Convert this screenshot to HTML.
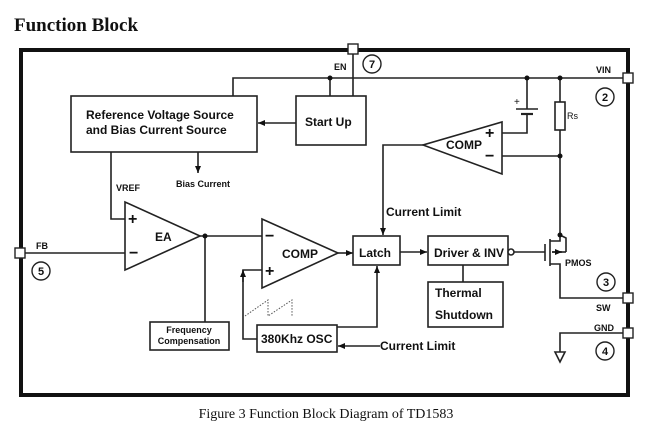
<!DOCTYPE html>
<html><head><meta charset="utf-8"><style>
html,body{margin:0;padding:0;background:#fff;}
svg{display:block;}
text{font-family:"Liberation Sans",Arial,sans-serif;font-weight:bold;fill:#111;}
.s{font-family:"Liberation Serif",serif;}
</style></head><body>
<svg width="651" height="440" viewBox="0 0 651 440" xmlns="http://www.w3.org/2000/svg">
<defs><marker id="a" markerWidth="8" markerHeight="8" refX="7" refY="4" orient="auto" markerUnits="userSpaceOnUse"><path d="M0,1 L7,4 L0,7 Z" fill="#111"/></marker></defs>
<text x="14" y="31" class="s" font-size="19">Function Block</text>
<rect x="21" y="50" width="607" height="345" fill="none" stroke="#111" stroke-width="4"/>
<g stroke="#222" stroke-width="1.6" fill="none">
<polyline points="233,96 233,78 628,78"/>
<line x1="353" y1="50" x2="353" y2="96"/>
<line x1="330" y1="78" x2="330" y2="96"/>
<rect x="71" y="96" width="186" height="56" fill="#fff"/>
<rect x="296" y="96" width="70" height="49" fill="#fff"/>
<line x1="296" y1="123" x2="258" y2="123" marker-end="url(#a)"/>
<line x1="198" y1="152" x2="198" y2="173" marker-end="url(#a)"/>
<polyline points="111,152 111,219 125,219"/>
<polygon points="125,202 125,270 200,236" fill="#fff"/>
<line x1="22" y1="253" x2="125" y2="253"/>
<line x1="200" y1="236" x2="262" y2="236"/>
<line x1="205" y1="236" x2="205" y2="322"/>
<rect x="150" y="322" width="79" height="28" fill="#fff"/>
<polygon points="262,219 262,288 338,253" fill="#fff"/>
<polyline points="257,339 243,339 243,270 262,270"/>
<line x1="243" y1="282" x2="243" y2="270" marker-end="url(#a)"/>
<rect x="257" y="325" width="80" height="27" fill="#fff"/>
<line x1="338" y1="253" x2="353" y2="253" marker-end="url(#a)"/>
<rect x="353" y="236" width="47" height="29" fill="#fff"/>
<polyline points="337,327 377,327 377,266" marker-end="url(#a)"/>
<line x1="380" y1="346" x2="338" y2="346" marker-end="url(#a)"/>
<line x1="400" y1="252" x2="427" y2="252" marker-end="url(#a)"/>
<rect x="428" y="236" width="80" height="29" fill="#fff"/>
<circle cx="511" cy="252" r="3" fill="#fff"/>
<line x1="514" y1="252" x2="545" y2="252"/>
<line x1="545" y1="244" x2="545" y2="261"/>
<line x1="550" y1="239" x2="550" y2="266"/>
<polyline points="550,241 560,241 560,235"/>
<polyline points="560,235 566,238 566,252"/>
<line x1="566" y1="252" x2="552" y2="252" />
<line x1="552" y1="252" x2="562" y2="252" marker-end="url(#a)"/>
<polyline points="550,264 560,264 560,298 628,298"/>
<line x1="463" y1="265" x2="463" y2="282"/>
<rect x="428" y="282" width="75" height="45" fill="#fff"/>
<polyline points="628,333 560,333 560,352"/>
<polygon points="555,352 565,352 560,362" fill="#fff"/>
<line x1="560" y1="78" x2="560" y2="102"/>
<rect x="555" y="102" width="10" height="28" fill="#fff"/>
<line x1="560" y1="130" x2="560" y2="235"/>
<line x1="502" y1="156" x2="560" y2="156"/>
<polygon points="502,122 502,174 423,145" fill="#fff"/>
<polyline points="502,133 527,133 527,114"/>
<line x1="527" y1="78" x2="527" y2="109"/>
<line x1="516" y1="109" x2="538" y2="109"/>
<line x1="521" y1="114" x2="533" y2="114" stroke-width="2.2"/>
<polyline points="423,145 383,145 383,235" marker-end="url(#a)"/>
</g>
<g stroke="#555" stroke-width="1" stroke-dasharray="1.5,1.5" fill="none">
<polyline points="245,316 268,300 268,316 292,300 292,316"/>
</g>
<g fill="#111">
<circle cx="330" cy="78" r="2.5"/><circle cx="527" cy="78" r="2.5"/><circle cx="560" cy="78" r="2.5"/>
<circle cx="560" cy="156" r="2.5"/><circle cx="560" cy="235" r="2.5"/><circle cx="205" cy="236" r="2.5"/>
</g>
<g fill="#fff" stroke="#222" stroke-width="1.4">
<rect x="348" y="44" width="10" height="10"/>
<rect x="623" y="73" width="10" height="10"/>
<rect x="15" y="248" width="10" height="10"/>
<rect x="623" y="293" width="10" height="10"/>
<rect x="623" y="328" width="10" height="10"/>
<circle cx="372" cy="64" r="9"/><circle cx="605" cy="97" r="9"/><circle cx="41" cy="271" r="9"/>
<circle cx="606" cy="282" r="9"/><circle cx="605" cy="351" r="9"/>
</g>
<g font-size="11" text-anchor="middle">
<text x="372" y="68">7</text><text x="605" y="101">2</text><text x="41" y="275">5</text>
<text x="606" y="286">3</text><text x="605" y="355">4</text>
</g>
<g font-size="9">
<text x="334" y="70">EN</text><text x="596" y="73">VIN</text><text x="36" y="249">FB</text>
<text x="596" y="311">SW</text><text x="594" y="331">GND</text><text x="565" y="266">PMOS</text>
<text x="116" y="191">VREF</text><text x="176" y="187">Bias Current</text>
</g>
<text x="567" y="119" font-size="9" style="font-weight:normal">Rs</text>
<text x="514" y="105" font-size="10" style="font-weight:normal">+</text>
<g font-size="12">
<text x="86" y="119">Reference Voltage Source</text>
<text x="86" y="134">and Bias Current Source</text>
<text x="305" y="126">Start Up</text>
<text x="155" y="241">EA</text>
<text x="282" y="258">COMP</text>
<text x="446" y="149">COMP</text>
<text x="359" y="257">Latch</text>
<text x="434" y="257">Driver &amp; INV</text>
<text x="435" y="297">Thermal</text>
<text x="435" y="319">Shutdown</text>
<text x="261" y="343">380Khz OSC</text>
<text x="386" y="216">Current Limit</text>
<text x="380" y="350">Current Limit</text>
</g>
<g font-size="9" text-anchor="middle">
<text x="189" y="333">Frequency</text><text x="189" y="344">Compensation</text>
</g>
<g font-size="16" style="font-weight:normal">
<text x="128" y="224">+</text><text x="129" y="258">−</text>
<text x="265" y="241">−</text><text x="265" y="276">+</text>
<text x="485" y="138">+</text><text x="485" y="161">−</text>
</g>
<text x="326" y="418" class="s" font-size="14" text-anchor="middle" style="font-weight:normal">Figure 3 Function Block Diagram of TD1583</text>
</svg>
</body></html>
